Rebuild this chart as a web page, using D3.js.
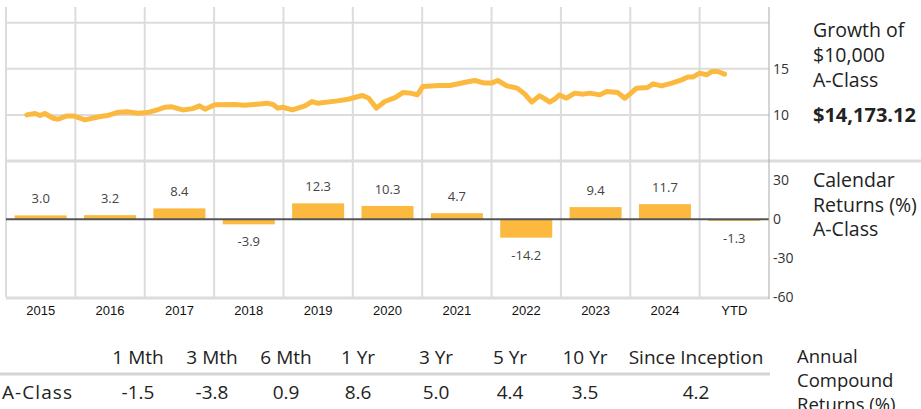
<!DOCTYPE html>
<html>
<head>
<meta charset="utf-8">
<script src="https://cdn.jsdelivr.net/npm/d3@7"></script>
<style>
  body { margin: 0; background: #fff; }
  svg { display: block; font-family: "Open Sans", sans-serif; }
</style>
</head>
<body>
<div id="chart"></div>
<script>
// columns of the chart
const columns = ['2015', '2016', '2017', '2018', '2019', '2020', '2021', '2022', '2023', '2024', 'YTD'];
const calendarReturns = [3.0, 3.2, 8.4, -3.9, 12.3, 10.3, 4.7, -14.2, 9.4, 11.7, -1.3];

// growth of $10,000 (thousands) at decimal-year positions
const growthDates = [
  2015.30, 2015.42, 2015.49, 2015.56, 2015.68, 2015.75, 2015.88, 2015.97,
  2016.14, 2016.24, 2016.36, 2016.46, 2016.60, 2016.74, 2016.90,
  2017.04, 2017.18, 2017.29, 2017.39, 2017.55, 2017.69, 2017.79, 2017.87,
  2018.01, 2018.30, 2018.44, 2018.69, 2018.76, 2018.85, 2018.92, 2018.99,
  2019.13, 2019.31, 2019.41, 2019.49, 2019.78, 2019.93,
  2020.08, 2020.14, 2020.23, 2020.34, 2020.46, 2020.61, 2020.72, 2020.83, 2020.93,
  2021.01, 2021.25, 2021.40, 2021.52, 2021.66, 2021.76, 2021.90,
  2022.00, 2022.09, 2022.22, 2022.37, 2022.48, 2022.58, 2022.69, 2022.77, 2022.84, 2022.91, 2022.98,
  2023.08, 2023.20, 2023.32, 2023.42, 2023.56, 2023.66, 2023.82, 2023.92,
  2024.01, 2024.09, 2024.25, 2024.33, 2024.45, 2024.60, 2024.74, 2024.83, 2024.90,
  2025.00, 2025.10, 2025.18, 2025.26, 2025.36
];
const growthValues = [
  10.00, 10.15, 9.93, 10.15, 9.64, 9.53, 9.89, 9.89,
  9.46, 9.64, 9.82, 9.93, 10.25, 10.33, 10.18,
  10.25, 10.54, 10.83, 10.87, 10.54, 10.68, 10.98, 10.62,
  11.09, 11.12, 11.05, 11.20, 11.27, 11.12, 10.73, 10.83,
  10.54, 10.98, 11.45, 11.27, 11.52, 11.70,
  11.99, 12.10, 11.81, 10.73, 11.45, 11.88, 12.42, 12.36, 12.17,
  13.08, 13.18, 13.18, 13.37, 13.59, 13.73, 13.45,
  13.45, 13.73, 13.15, 12.90, 12.25, 11.38, 12.07, 11.74, 11.38, 11.70, 12.17,
  11.81, 12.36, 12.25, 12.36, 12.17, 12.54, 12.42, 11.81,
  12.36, 12.90, 12.97, 13.37, 13.15, 13.45, 13.80, 14.10, 14.10,
  14.53, 14.35, 14.71, 14.71, 14.42, 14.17
];
const growthTicks = [10, 15];
const returnTicks = [30, 0, -30, -60];

// annual compound returns table
const periods = ['1 Mth', '3 Mth', '6 Mth', '1 Yr', '3 Yr', '5 Yr', '10 Yr', 'Since Inception'];
const periodReturns = ['-1.5', '-3.8', '0.9', '8.6', '5.0', '4.4', '3.5', '4.2'];
const periodCenters = [138, 212, 286, 358, 436, 510, 585, 696];

const W = 921, H = 409;
const left = 6, right = 769;
const orange = '#fbb940';
const grid = '#dcdcdc';

const svg = d3.select('#chart').append('svg')
  .attr('width', W).attr('height', H);

const xBand = d3.scaleBand().domain(columns).range([left, right]).padding(0);
const xTime = d3.scaleLinear().domain([2015, 2026]).range([left, right]);
const yGrowth = d3.scaleLinear().domain([5, 21.7]).range([161, 7]);
const yRet = d3.scaleLinear().domain([-60, 45]).range([297, 161]);

const colEdges = columns.map(c => xBand(c)).concat([right]);

// ---- top panel: growth ----
const topPanel = svg.append('g');
topPanel.selectAll('line.vg').data(colEdges.slice(0, -1)).enter().append('line')
  .attr('x1', d => d).attr('x2', d => d)
  .attr('y1', yGrowth.range()[1]).attr('y2', yGrowth.range()[0])
  .attr('stroke', grid).attr('stroke-width', 2);
topPanel.selectAll('line.hg').data([20, 15, 10]).enter().append('line')
  .attr('x1', left).attr('x2', right)
  .attr('y1', d => yGrowth(d)).attr('y2', d => yGrowth(d))
  .attr('stroke', grid).attr('stroke-width', 2);

const line = d3.line()
  .x((d, i) => xTime(growthDates[i]))
  .y(d => yGrowth(d))
  .curve(d3.curveLinear);
topPanel.append('path').datum(growthValues)
  .attr('d', line)
  .attr('fill', 'none').attr('stroke', orange)
  .attr('stroke-width', 5).attr('stroke-linejoin', 'round').attr('stroke-linecap', 'round');

const gAxis = topPanel.append('g').attr('transform', `translate(${right},0)`)
  .call(d3.axisRight(yGrowth).tickValues(growthTicks).tickFormat(d => String(d)).tickSize(0).tickPadding(4));
gAxis.select('.domain').remove();
gAxis.selectAll('text').attr('font-family', '"Open Sans", sans-serif').attr('font-size', 14).attr('fill', '#333');

// ---- bottom panel: calendar returns ----
const botPanel = svg.append('g');
botPanel.selectAll('line.vg').data(colEdges.slice(0, -1)).enter().append('line')
  .attr('x1', d => d).attr('x2', d => d)
  .attr('y1', yRet.range()[1]).attr('y2', yRet.range()[0])
  .attr('stroke', grid).attr('stroke-width', 2);

// separator between panels and bottom border
svg.append('line').attr('x1', left).attr('x2', W).attr('y1', 161).attr('y2', 161)
  .attr('stroke', grid).attr('stroke-width', 3);
svg.append('line').attr('x1', left).attr('x2', right).attr('y1', 298).attr('y2', 298)
  .attr('stroke', grid).attr('stroke-width', 3);

const barW = xBand.bandwidth() * 0.75;
botPanel.selectAll('rect').data(calendarReturns).enter().append('rect')
  .attr('x', (d, i) => xBand(columns[i]) + (xBand.bandwidth() - barW) / 2)
  .attr('width', barW)
  .attr('y', d => yRet(Math.max(0, d)))
  .attr('height', d => Math.abs(yRet(d) - yRet(0)))
  .attr('fill', orange);

botPanel.append('line').attr('x1', left).attr('x2', right)
  .attr('y1', yRet(0)).attr('y2', yRet(0))
  .attr('stroke', '#555').attr('stroke-width', 2);

botPanel.selectAll('text.val').data(calendarReturns).enter().append('text')
  .attr('x', (d, i) => xBand(columns[i]) + xBand.bandwidth() / 2)
  .attr('y', d => d >= 0 ? yRet(d) - 12 : yRet(d) + 22)
  .attr('text-anchor', 'middle')
  .attr('font-size', 13).attr('fill', '#444')
  .text(d => d.toFixed(1));

const rAxis = botPanel.append('g').attr('transform', `translate(${right},0)`)
  .call(d3.axisRight(yRet).tickValues(returnTicks).tickFormat(d => String(d)).tickSize(0).tickPadding(4));
rAxis.select('.domain').remove();
rAxis.selectAll('text').attr('font-family', '"Open Sans", sans-serif').attr('font-size', 14).attr('fill', '#333');

const xAxis = botPanel.append('g').attr('transform', 'translate(0,302)')
  .call(d3.axisBottom(xBand).tickSize(0).tickPadding(4));
xAxis.select('.domain').remove();
xAxis.selectAll('text').attr('font-family', '"Liberation Sans", Arial, sans-serif')
  .attr('font-size', 13).attr('fill', '#111');

// right border
svg.append('line').attr('x1', right).attr('x2', right).attr('y1', 7).attr('y2', 299)
  .attr('stroke', '#aaa').attr('stroke-width', 1);

// ---- side labels ----
function multiline(x, y, lines, size, weight, step) {
  const t = svg.append('text').attr('x', x).attr('y', y)
    .attr('font-size', size).attr('font-weight', weight || 'normal').attr('fill', '#222');
  lines.forEach((l, i) => t.append('tspan').attr('x', x).attr('y', y + i * step).text(l));
}
multiline(813, 37, ['Growth of', '$10,000', 'A-Class'], 19.5, 'normal', 25);
multiline(813, 122, ['$14,173.12'], 20, 'bold', 25);
multiline(813, 187, ['Calendar', 'Returns (%)', 'A-Class'], 19.5, 'normal', 24.5);
multiline(797, 363, ['Annual', 'Compound', 'Returns (%)'], 18.5, 'normal', 24);

// ---- table ----
const table = svg.append('g').attr('font-size', 19).attr('fill', '#222');
table.selectAll('text.h').data(periods).enter().append('text')
  .attr('x', (d, i) => periodCenters[i]).attr('y', 364)
  .attr('text-anchor', 'middle').text(d => d);
table.append('line').attr('x1', 0).attr('x2', 770).attr('y1', 374).attr('y2', 374)
  .attr('stroke', '#d4d4d4').attr('stroke-width', 3);
table.append('text').attr('x', 2).attr('y', 399).attr('textLength', 70).text('A-Class');
table.selectAll('text.v').data(periodReturns).enter().append('text')
  .attr('x', (d, i) => periodCenters[i]).attr('y', 399)
  .attr('text-anchor', 'middle').text(d => d);
</script>
</body>
</html>
